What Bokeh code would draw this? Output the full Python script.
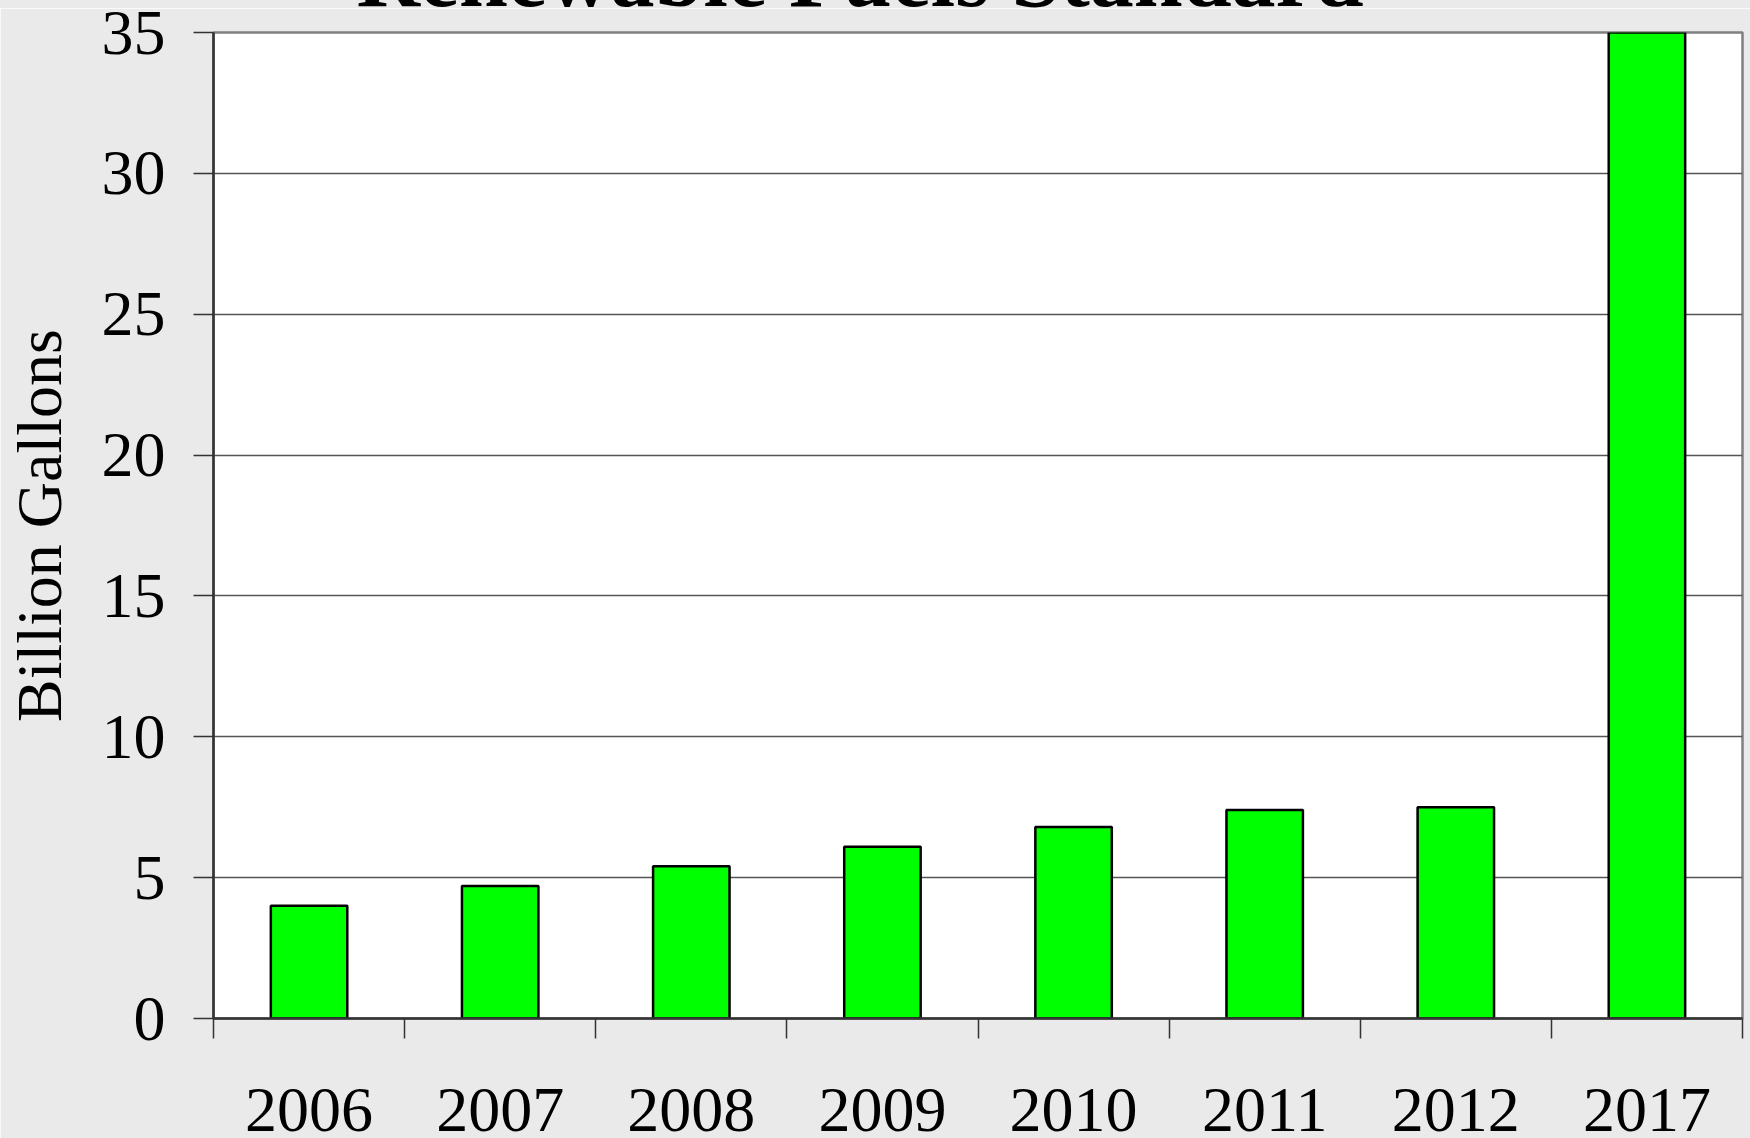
from bokeh.plotting import figure
from bokeh.models import Range1d, FixedTicker, Div
from bokeh.layouts import column
from bokeh.embed import file_html
from bokeh.resources import INLINE

# ---- data ----
years = ["2006", "2007", "2008", "2009", "2010", "2011", "2012", "2017"]
billion_gallons = [4.0, 4.7, 5.4, 6.1, 6.8, 7.4, 7.5, 35.0]
y_ticks = [0, 5, 10, 15, 20, 25, 30, 35]
title_text = "Renewable Fuels Standard"
y_label = "Billion Gallons"

FONT = "Liberation Serif"
BG = "#EAEAEA"

n = len(years)
centers = [i + 0.5 for i in range(n)]          # category slot centres
bounds = list(range(n + 1))                     # category slot boundaries

W = 1750
TITLE_H = 8
MAIN_H = 1138 - TITLE_H

# ---------- title strip: the title is cut off at the top edge, as in the reference ----------
title_div = Div(
    text=('<div style="position:relative; top:-67px; left:0; width:1720px; '
          'text-align:center; white-space:nowrap; font-family:\'Liberation Serif\'; '
          'font-weight:bold; font-size:88px; line-height:88px; color:black;">'
          + title_text + '</div>'),
    width=W, height=TITLE_H,
    styles={"overflow": "hidden", "background-color": BG, "margin": "0", "padding": "0"},
)

# ---------- main chart ----------
p = figure(
    width=W, height=MAIN_H,
    x_range=Range1d(0, n),
    y_range=Range1d(0, 35),
    output_backend="svg", toolbar_location=None,
    min_border_left=213, min_border_right=8, min_border_top=24, min_border_bottom=120,
)
p.border_fill_color = BG
p.background_fill_color = "white"
p.outline_line_color = "#808080"
p.outline_line_width = 2.5

p.vbar(x=centers, top=billion_gallons, width=0.4, bottom=0,
       fill_color="#00FF00", line_color="black", line_width=2.5)

# y axis
p.yaxis.ticker = FixedTicker(ticks=y_ticks)
p.yaxis.major_tick_out = 20
p.yaxis.major_tick_in = 0
p.yaxis.minor_tick_line_color = None
p.yaxis.major_tick_line_color = "#333333"
p.yaxis.major_tick_line_width = 1.5
p.yaxis.axis_line_color = "#333333"
p.yaxis.axis_line_width = 2.5
p.yaxis.major_label_text_font = FONT
p.yaxis.major_label_text_font_size = "64px"
p.yaxis.major_label_text_color = "black"
p.yaxis.major_label_standoff = 28
p.yaxis.axis_label = y_label
p.yaxis.axis_label_text_font = FONT
p.yaxis.axis_label_text_font_size = "64px"
p.yaxis.axis_label_text_font_style = "normal"
p.yaxis.axis_label_text_color = "black"
p.yaxis.axis_label_standoff = 24

p.ygrid.grid_line_color = "#555555"
p.ygrid.grid_line_width = 1.5
p.xgrid.grid_line_color = None

# x axis: year labels at slot centres, tick marks at slot boundaries (minor ticks)
xax = p.xaxis[0]
xax.ticker = FixedTicker(ticks=centers, minor_ticks=bounds)
xax.major_label_overrides = {c: yr for c, yr in zip(centers, years)}
xax.major_tick_out = 0
xax.major_tick_in = 0
xax.major_tick_line_color = None
xax.minor_tick_out = 20
xax.minor_tick_in = 0
xax.minor_tick_line_color = "#333333"
xax.minor_tick_line_width = 1.5
xax.axis_line_color = "#333333"
xax.axis_line_width = 2.5
xax.major_label_text_font = FONT
xax.major_label_text_font_size = "64px"
xax.major_label_text_color = "black"
xax.major_label_standoff = 50

layout = column(title_div, p, spacing=0)
open("out.html", "w").write(file_html(layout, INLINE))
